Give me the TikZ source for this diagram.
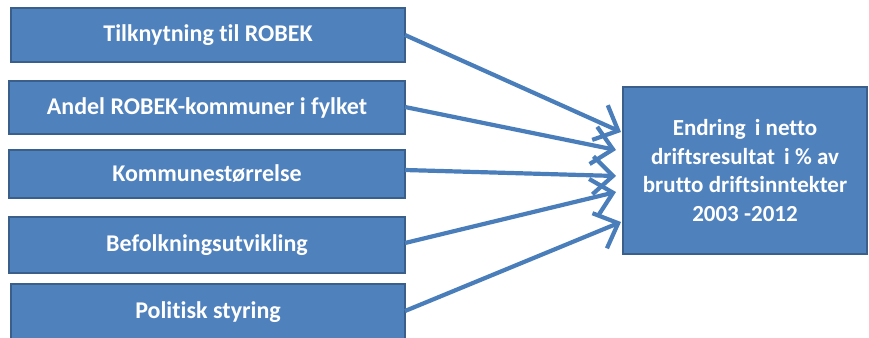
\documentclass[tikz,border=0pt]{standalone}
\usepackage{fontspec}
\setmainfont{Carlito}[Ligatures=CommonOff]
\usetikzlibrary{arrows.meta}
\definecolor{boxblue}{HTML}{4F81BD}
\definecolor{boxedge}{HTML}{3A5F8B}
\definecolor{arrowblue}{HTML}{4A7EBB}
\begin{document}
\begin{tikzpicture}[x=1pt,y=-1pt,
  factor/.style={draw=boxedge, line width=1.2pt, fill=boxblue, text=white,
    font=\bfseries\fontsize{24}{28}\selectfont, inner sep=0pt, minimum width=396pt},
  result/.style={draw=boxedge, line width=1.2pt, fill=boxblue, text=white,
    font=\bfseries\fontsize{23}{28.5}\selectfont, inner sep=0pt, align=center,
    minimum width=244pt, minimum height=167pt},
  link/.style={draw=arrowblue, line width=4.2pt,
    -{Straight Barb[length=20pt,width=38pt,line width=4.2pt]}}]
\useasboundingbox (0,0) rectangle (869,337);
\node[factor, minimum width=394pt, minimum height=54pt] (b1) at (208,35) {Tilknytning til ROBEK};
\node[factor, minimum height=53pt] (b2) at (207,107.5) {Andel ROBEK-kommuner i fylket};
\node[factor, minimum height=48pt] (b3) at (207,174) {Kommunestørrelse};
\node[factor, minimum height=56pt] (b4) at (207,245) {Befolkningsutvikling};
\node[factor, minimum width=394pt, minimum height=56pt] (b5) at (208,312) {Politisk styring};
\node[result] (r) at (745,170.5) {Endring \,i netto\\driftsresultat \,i \% av\\brutto driftsinntekter\\2003 -2012};
\coordinate (s1) at (405,35);
\coordinate (s2) at (405,107);
\coordinate (s3) at (405,170);
\coordinate (s4) at (405,243);
\coordinate (s5) at (405,311);
\coordinate (e1) at (621,132);
\coordinate (e2) at (616,150);
\coordinate (e3) at (616,176);
\coordinate (e4) at (616,192);
\coordinate (e5) at (621,222);
\draw[link] (s1) -- (e1);
\draw[link] (s2) -- (e2);
\draw[link] (s3) -- (e3);
\draw[link] (s4) -- (e4);
\draw[link] (s5) -- (e5);
\end{tikzpicture}
\end{document}
